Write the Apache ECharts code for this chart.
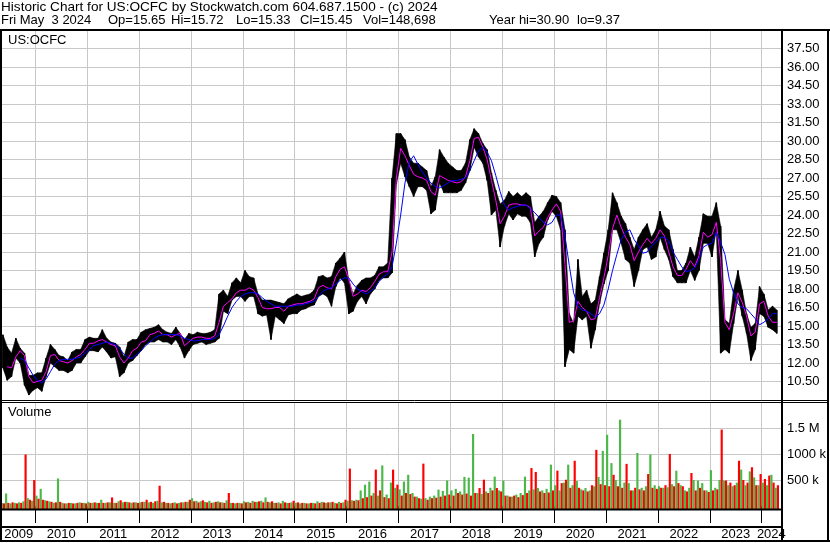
<!DOCTYPE html>
<html><head><meta charset="utf-8">
<script src="https://cdn.jsdelivr.net/npm/echarts@6/dist/echarts.min.js"></script>
<style>html,body{margin:0;padding:0;background:#fff}#c{width:830px;height:543px}</style>
</head><body><div id="c"></div>
<script>
// Monthly bars from May 2009 to Apr 2024
const startYear = 2009, startMonth = 5;
const lows = [
 11.6,10.6,10.9,12.4,12.0,10.2,9.4,9.8,
 10.0,9.7,10.9,12.0,11.7,11.4,11.4,11.2,11.4,12.0,12.0,12.5,
 13.0,13.0,12.9,13.3,12.9,12.4,12.5,10.9,11.2,12.0,12.2,12.6,
 13.0,13.5,13.7,13.7,13.9,13.7,13.7,13.5,13.9,13.3,12.4,13.0,
 13.5,13.6,13.7,13.5,13.6,13.7,14.0,16.2,16.0,17.1,17.4,17.4,
 17.0,17.4,17.4,16.0,15.8,15.9,13.9,15.8,15.5,15.2,15.9,16.0,
 16.0,16.3,16.4,16.6,16.7,17.4,17.6,17.4,16.6,18.2,18.9,18.5,
 16.0,16.2,17.0,17.4,16.8,17.6,18.0,18.7,18.9,18.9,19.3,26.5,
 28.2,27.1,26.3,25.5,26.3,26.3,26.0,24.1,24.4,26.6,25.8,25.8,
 25.8,25.8,26.0,26.6,27.6,29.5,28.7,28.2,26.8,24.0,24.4,21.4,
 23.1,24.1,23.6,24.1,23.9,23.9,23.4,20.6,21.7,22.2,23.6,24.3,
 23.9,22.8,11.7,13.1,12.8,15.8,15.5,15.8,13.2,14.7,16.8,18.4,
 19.5,22.8,22.8,21.7,20.4,20.1,18.2,19.5,21.2,21.4,20.4,20.6,
 22.2,21.2,20.4,19.0,18.5,18.5,18.5,19.5,18.7,19.5,21.7,21.7,
 20.6,22.8,12.8,13.1,12.8,15.2,17.4,15.8,14.4,12.2,13.1,16.0,
 15.8,14.9,14.7,14.4
];
const highs = [
 14.3,13.3,12.8,14.0,13.2,12.8,11.0,11.0,
 11.2,11.2,12.4,13.5,13.1,12.6,12.5,12.2,12.9,13.1,13.1,13.9,
 14.1,14.0,14.0,14.7,14.0,13.7,13.6,13.3,12.5,13.7,13.9,13.9,
 14.5,14.7,14.8,14.9,15.1,14.7,14.5,14.4,14.9,14.4,13.9,14.4,
 14.3,14.5,14.4,14.4,14.5,14.7,17.6,17.9,17.4,18.5,18.9,18.5,
 19.5,19.0,18.9,17.6,17.1,17.1,17.1,17.0,16.9,16.8,17.2,17.4,
 17.6,17.4,17.5,17.6,17.9,19.0,19.1,18.9,19.0,20.1,20.5,21.0,
 18.7,17.6,18.3,18.7,18.9,18.9,19.1,19.8,19.8,20.1,27.0,30.6,
 30.6,30.1,28.7,28.2,28.2,27.9,27.6,26.3,27.1,29.3,28.7,28.2,
 27.9,27.6,27.6,28.2,30.1,31.0,30.6,29.8,29.3,27.4,26.0,24.9,
 25.2,25.9,25.5,25.8,25.5,25.8,25.5,23.4,23.9,24.3,25.0,25.6,
 25.5,25.0,22.8,16.0,15.2,20.4,17.4,17.9,16.8,17.1,19.0,20.9,
 22.8,25.8,25.0,23.9,23.3,22.2,21.2,22.2,22.8,23.3,22.2,22.8,
 24.3,23.1,22.8,21.2,19.5,19.5,20.1,21.4,20.6,22.2,24.1,23.9,
 23.9,25.0,23.1,15.5,15.2,17.9,19.5,17.9,16.0,14.9,15.2,18.2,
 17.6,16.3,16.6,16.3
];
const maShort = [
 null,11.7,11.6,12.5,13.0,12.6,10.9,10.4,
 10.5,10.6,11.3,12.6,12.7,12.2,12.1,12.0,12.2,12.5,12.7,13.1,
 13.6,13.6,13.8,13.9,13.7,13.5,13.4,12.5,12.0,12.4,13.0,13.2,
 13.7,13.8,14.3,14.4,14.6,14.3,14.3,14.1,14.3,14.4,13.4,13.7,
 14.0,14.1,14.1,14.0,14.0,14.2,15.3,16.6,16.9,17.2,17.7,17.9,
 17.9,18.1,17.9,17.3,16.5,16.4,16.4,16.5,16.5,16.2,16.6,16.7,
 16.8,16.8,16.9,17.0,17.2,18.1,18.3,18.1,18.0,19.0,19.6,19.8,
 18.8,17.4,17.6,17.9,17.8,18.1,18.6,19.2,19.4,19.4,21.0,27.0,
 29.4,28.8,28.0,27.3,27.1,27.0,26.8,25.9,25.6,27.2,27.0,26.8,
 26.7,26.6,26.7,27.1,28.4,30.2,30.3,29.5,28.5,26.8,25.2,23.3,
 23.9,24.8,24.9,24.9,24.8,24.8,24.6,22.3,22.7,23.0,23.8,24.4,
 24.9,24.3,20.0,15.3,15.4,17.0,16.5,16.2,15.5,15.6,17.3,18.9,
 20.7,22.9,24.0,23.0,22.2,21.6,20.3,21.0,21.6,22.1,21.7,22.1,
 22.8,22.3,21.0,19.8,19.1,19.1,19.6,20.3,19.8,20.7,22.6,22.2,
 22.4,23.4,20.3,15.3,14.7,16.0,17.7,16.9,15.8,14.2,14.5,16.8,
 17.0,15.8,15.3,15.3
];
const maLong = [
 null,null,null,null,12.4,12.2,11.6,11.0,
 10.6,10.4,10.7,11.3,11.9,12.2,12.3,12.3,12.3,12.4,12.5,12.8,
 13.1,13.4,13.5,13.6,13.7,13.6,13.5,13.2,12.7,12.4,12.4,12.7,
 13.0,13.4,13.7,14.0,14.2,14.3,14.3,14.3,14.3,14.2,14.0,13.9,
 13.8,13.8,13.9,13.9,13.9,14.0,14.3,15.0,15.8,16.5,17.0,17.4,
 17.6,17.7,17.7,17.6,17.3,17.0,16.8,16.6,16.6,16.6,16.6,16.6,
 16.7,16.7,16.8,16.9,17.0,17.4,17.8,18.0,18.1,18.4,18.7,18.9,
 18.9,18.4,18.0,17.8,17.6,17.8,18.1,18.6,19.0,19.2,19.8,21.7,
 24.0,26.6,28.3,28.8,28.1,27.5,27.0,26.6,26.3,26.2,26.4,26.6,
 26.8,26.8,26.9,27.0,27.6,28.4,29.2,29.5,29.1,28.4,27.2,25.9,
 24.8,24.4,24.6,24.7,24.8,24.8,24.5,24.2,23.8,23.4,23.2,23.4,
 24.0,24.0,22.3,19.9,17.7,16.6,16.3,16.2,16.0,15.7,16.0,16.7,
 18.0,19.5,20.8,22.0,22.6,22.8,22.0,21.5,20.9,21.0,21.5,21.8,
 22.2,22.2,21.9,21.0,20.4,19.8,19.4,19.5,19.7,20.4,21.4,21.6,
 21.7,22.6,21.8,20.8,18.8,17.7,16.8,16.5,16.4,16.0,15.6,15.1,
 15.3,15.6,16.0,16.0
];
// volume, thousands of shares: up-day and down-day levels per month
const volUp = [
 60,240,50,60,70,90,150,100,
 200,330,110,90,60,530,60,50,60,50,70,60,
 80,60,60,120,60,70,60,90,70,80,60,70,
 70,80,70,60,100,70,60,50,70,60,70,80,
 150,100,90,80,100,70,90,70,110,60,50,60,
 90,80,100,80,100,165,70,60,70,100,60,70,
 60,50,60,50,60,90,80,60,70,60,80,70,
 100,110,120,300,410,470,250,200,780,220,450,350,
 320,470,600,250,180,140,150,180,200,315,290,490,
 300,330,280,560,545,1385,250,230,280,350,565,300,
 490,200,180,220,250,565,300,320,345,300,330,795,
 400,300,450,795,400,480,320,345,300,380,560,1060,
 1370,825,500,1660,450,440,300,1020,350,380,990,400,
 380,350,360,420,680,400,300,350,500,490,440,300,
 690,350,500,490,400,380,450,700,400,665,550,400,
 450,400,600,350
];
const volDown = [
 50,60,70,50,60,990,120,500,
 140,120,100,80,70,80,50,60,50,60,60,50,
 60,70,60,60,70,165,60,110,80,70,70,60,
 80,120,80,90,390,80,60,60,50,70,80,120,
 90,70,110,70,60,80,70,60,250,60,60,50,
 70,60,80,90,70,80,90,60,50,70,60,100,
 70,60,50,60,50,60,70,70,80,50,60,120,
 720,100,110,150,170,200,700,300,170,150,700,410,
 200,250,230,180,150,815,120,150,160,180,200,220,
 200,250,220,240,200,250,345,506,250,300,345,280,
 200,180,200,170,210,250,730,655,280,250,260,300,
 680,440,505,350,870,350,300,280,400,1080,420,400,
 380,600,380,350,810,300,350,320,300,615,350,330,
 350,400,1000,380,440,380,280,635,300,350,300,270,
 300,320,1470,490,450,400,870,500,450,745,400,615,
 520,585,450,400
];
const yearTicks = [2010,2011,2012,2013,2014,2015,2016,2017,2018,2019,2020,2021,2022,2023,2024];
const yearLabels = [2009,2010,2011,2012,2013,2014,2015,2016,2017,2018,2019,2020,2021,2022,2023,2024];
const volTicks = [500000,1000000,1500000];
const volTickLabels = ['500 k','1000 k','1.5 M'];
const line1 = 'Historic Chart for US:OCFC by Stockwatch.com 604.687.1500 - (c) 2024';
const line2Fields = ['Fri May  3 2024', 'Op=15.65', 'Hi=15.72', 'Lo=15.33', 'Cl=15.45', 'Vol=148,698', 'Year hi=30.90', 'lo=9.37'];
const line2Left = [1, 108, 171, 236, 300, 363, 489, 577];

const X_MIN = 2009.358, X_MAX = 2024.372;
const VOL_MIN = -57692, VOL_MAX = 1980769;
const FONT = '"Liberation Sans", Arial, sans-serif';
const GRIDC = '#c8c8c8';

const t = i => startYear + (startMonth - 1 + i + 0.5) / 12;
const priceData = lows.map((l, i) => [t(i), l, highs[i]]);
const shortData = maShort.map((v, i) => [t(i), v]);
const longData = maLong.map((v, i) => [t(i), v]);
const volData = volUp.map((u, i) => [t(i), u * 1000, volDown[i] * 1000]);
const labelPos = yearLabels.map(y => (Math.max(y, X_MIN) + Math.min(y + 1, X_MAX)) / 2);

const chart = echarts.init(document.getElementById('c'), null, {renderer: 'canvas'});
const xBase = {
  type: 'value', min: X_MIN, max: X_MAX,
  axisLine: {show: false},
  axisTick: {show: false, customValues: yearTicks},
  axisLabel: {show: false},
  splitLine: {show: true, lineStyle: {color: GRIDC, width: 1}}
};
const hline = (x1, y1, x2, y2, w) => ({type: 'line', z: 100, silent: true,
  shape: {x1, y1, x2, y2}, style: {stroke: '#000', lineWidth: w}});
const txt = (s, left, top, size) => ({text: s, left, top, padding: 0,
  textStyle: {fontSize: size || 13, fontWeight: 'normal', color: '#000', fontFamily: FONT}});

chart.setOption({
  animation: false,
  backgroundColor: '#fff',
  textStyle: {fontFamily: FONT},
  title: [txt(line1, 1, 0, 13.6), txt('US:OCFC', 8, 34), txt('Volume', 8, 406)]
    .concat(line2Fields.map((s, i) => txt(s, line2Left[i], 14))),
  grid: [
    {left: 2, right: 49, top: 30, height: 370},
    {left: 2, right: 49, top: 403, height: 106}
  ],
  xAxis: [
    Object.assign({gridIndex: 0}, xBase),
    Object.assign({}, xBase, {
      gridIndex: 1,
      axisTick: {show: true, customValues: yearTicks, length: 17, inside: false, lineStyle: {color: '#000', width: 1}},
      axisLabel: {show: true, customValues: labelPos, margin: 19, fontSize: 13, color: '#000', fontFamily: FONT,
        formatter: v => String(Math.floor(v + 1e-9))}
    })
  ],
  yAxis: [
    {type: 'value', gridIndex: 0, position: 'right', min: 9, max: 39, interval: 1.5,
     axisLine: {show: false}, axisTick: {show: false},
     axisLabel: {show: true, margin: 6, align: 'left', fontSize: 13, color: '#000', fontFamily: FONT,
       showMinLabel: false, showMaxLabel: false, formatter: v => v.toFixed(2)},
     splitLine: {show: true, lineStyle: {color: GRIDC, width: 1}}},
    {type: 'value', gridIndex: 1, position: 'right', min: VOL_MIN, max: VOL_MAX,
     axisLine: {show: false}, axisTick: {show: false, customValues: volTicks},
     axisLabel: {show: true, customValues: volTicks, margin: 6, align: 'left', fontSize: 13, color: '#000', fontFamily: FONT,
       formatter: v => volTickLabels[volTicks.indexOf(v)] || ''},
     splitLine: {show: true, lineStyle: {color: GRIDC, width: 1}}}
  ],
  series: [
    {type: 'custom', name: 'Price', xAxisIndex: 0, yAxisIndex: 0, data: priceData, clip: true,
     renderItem: (params, api) => {
       const i = params.dataIndexInside;
       const x0 = api.value(0, i), l0 = api.value(1, i), h0 = api.value(2, i);
       const w = api.size([1 / 12, 0])[0];
       const a = api.coord([x0, h0]), b = api.coord([x0, l0]);
       const children = [{type: 'rect', shape: {x: a[0] - 0.75, y: a[1], width: 1.5, height: Math.max(1, b[1] - a[1])},
         style: {fill: '#000'}}];
       if (i < params.dataInsideLength - 1) {
         const x1 = api.value(0, i + 1), l1 = api.value(1, i + 1), h1 = api.value(2, i + 1);
         children.push({type: 'polygon', shape: {points: [a, api.coord([x1, h1]), api.coord([x1, l1]), b]},
           style: {fill: '#000', stroke: '#000', lineWidth: 0.6}});
       }
       return {type: 'group', children};
     }},
    {type: 'line', name: 'MA short', xAxisIndex: 0, yAxisIndex: 0, data: shortData, showSymbol: false,
     lineStyle: {color: '#ff00ff', width: 1}, itemStyle: {color: '#ff00ff'}, z: 3},
    {type: 'line', name: 'MA long', xAxisIndex: 0, yAxisIndex: 0, data: longData, showSymbol: false,
     lineStyle: {color: '#0000ff', width: 1}, itemStyle: {color: '#0000ff'}, z: 4},
    {type: 'custom', name: 'Volume', xAxisIndex: 1, yAxisIndex: 1, data: volData, clip: true,
     renderItem: (params, api) => {
       const x = api.value(0), up = api.value(1), dn = api.value(2);
       const w = api.size([1 / 12, 0])[0] / 2;
       const base = api.coord([x, VOL_MIN])[1];
       const pu = api.coord([x, up]), pd = api.coord([x, dn]);
       return {type: 'group', children: [
         {type: 'rect', shape: {x: pu[0] - w, y: pu[1], width: w, height: base - pu[1]}, style: {fill: '#4cb848'}},
         {type: 'rect', shape: {x: pu[0], y: pd[1], width: w, height: base - pd[1]}, style: {fill: '#ff0000'}}
       ]};
     }}
  ],
  graphic: [
    hline(0, 30, 830, 30, 2),
    hline(1, 30, 1, 542, 2),
    hline(782, 30, 782, 542, 2),
    hline(828, 30, 828, 542, 2),
    hline(0, 541, 830, 541, 2),
    hline(0, 400.5, 829, 400.5, 1),
    hline(0, 402.5, 829, 402.5, 1),
    hline(0, 509.5, 782, 509.5, 2),
    hline(0, 527, 782, 527, 2)
  ]
});
</script>
</body></html>
